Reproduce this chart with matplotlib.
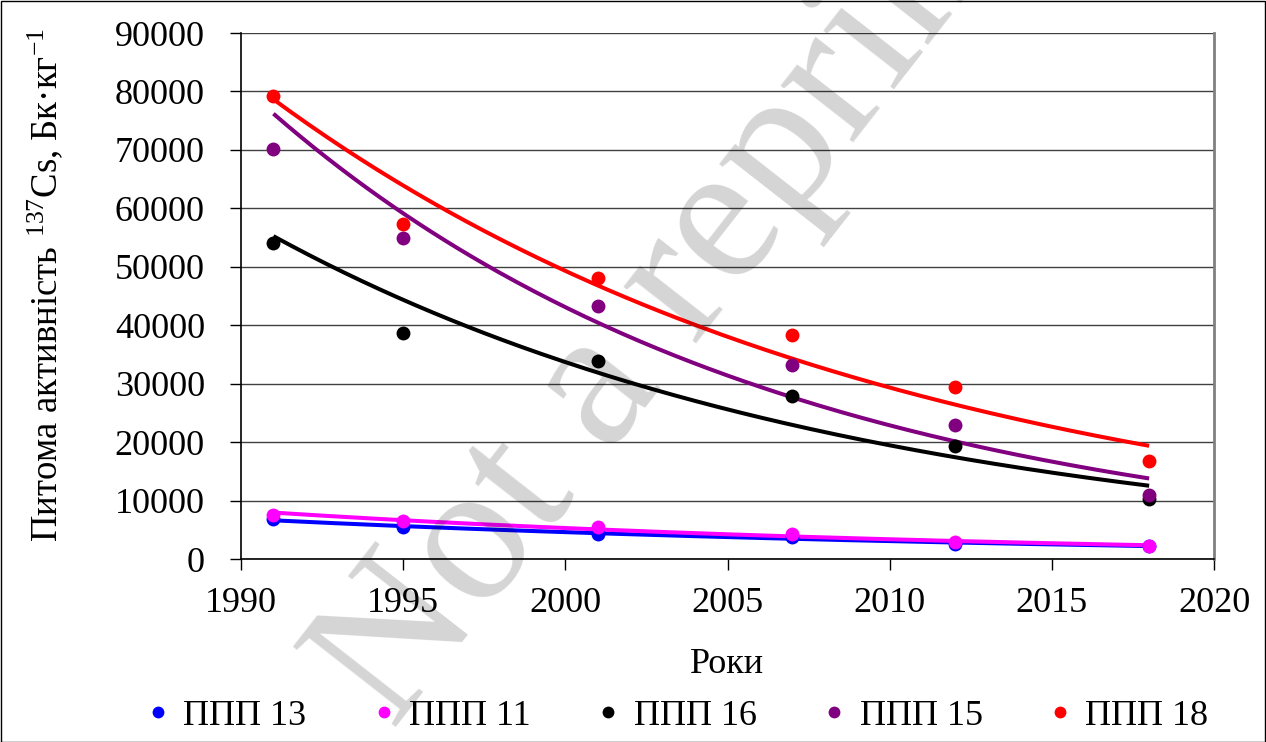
import numpy as np
import matplotlib
matplotlib.use("Agg")
import matplotlib.pyplot as plt
from matplotlib.patches import Rectangle

plt.rcParams['font.family'] = ['Liberation Serif', 'DejaVu Serif']
plt.rcParams['mathtext.fontset'] = 'custom'
plt.rcParams['mathtext.rm'] = 'Liberation Serif'
plt.rcParams['mathtext.it'] = 'Liberation Serif:italic'

years = [1991, 1995, 2001, 2007, 2012, 2018]
labels = ['ППП 13', 'ППП 11', 'ППП 16', 'ППП 15', 'ППП 18']
colors = ['#0000FF', '#FF00FF', '#000000', '#800080', '#FF0000']
ppp13 = [6900, 5400, 4300, 3700, 2600, 2300]
ppp11 = [7600, 6500, 5400, 4200, 2900, 2300]
ppp16 = [54100, 38600, 33800, 27900, 19300, 10300]
ppp15 = [70100, 54900, 43300, 33200, 23000, 11000]
ppp18 = [79200, 57300, 48100, 38300, 29400, 16800]
series = [ppp13, ppp11, ppp16, ppp15, ppp18]

W, H = 1266, 742
fig = plt.figure(figsize=(W / 100, H / 100), dpi=100)
ax = fig.add_axes([241 / W, 1 - 559 / H, (1214 - 241) / W, (559 - 33) / H])

x = np.array(years, dtype=float)
xf = np.linspace(x.min(), x.max(), 200)
for vals, col, lab in zip(series, colors, labels):
    v = np.array(vals, dtype=float)
    b, a = np.polyfit(x, np.log(v), 1)
    ax.plot(xf, np.exp(a + b * xf), color=col, lw=2.9, zorder=3, solid_capstyle='butt')
    ax.plot(x, v, 'o', color=col, ms=10, mec='none', zorder=4, label=lab)

ax.set_xlim(1990, 2020)
ax.set_ylim(0, 90000)
ax.set_xticks(np.arange(1990, 2021, 5))
ax.set_yticks(np.arange(0, 90001, 10000))
ax.yaxis.grid(True, color='#000000', lw=1.0, alpha=0.75)
ax.set_axisbelow(True)
for s in ['left', 'bottom']:
    ax.spines[s].set_color('black')
    ax.spines[s].set_linewidth(1.2)
ax.spines['right'].set_color('#808080')
ax.spines['right'].set_linewidth(2)
ax.spines['top'].set_visible(False)
ax.tick_params(axis='both', direction='out', length=8, width=1, labelsize=26, colors='black')
ax.tick_params(axis='x', pad=12)
ax.tick_params(axis='y', pad=18)

ax.set_xlabel('Роки', fontsize=26, labelpad=20)
fig.text(45 / W, 1 - 285 / H, 'Питома активність $^{137}$Cs, Бк·кг$^{-1}$',
         rotation=90, ha='center', va='center', fontsize=26.5)

leg = fig.legend(loc='center', bbox_to_anchor=(0.536, 1 - 716 / H), ncol=5,
                 frameon=False, fontsize=26, markerscale=0.85, handlelength=0.5,
                 handletextpad=0.45, columnspacing=1.9)

# watermark
fig.text(393 / W, 1 - 731 / H, 'Not a reprint', fontsize=144, color='black', alpha=0.17,
         rotation=52, rotation_mode='anchor', ha='left', va='baseline', zorder=10)

fig.add_artist(Rectangle((0.5 / W, 0.5 / H), 1 - 1.5 / W, 1 - 1.5 / H,
                         transform=fig.transFigure, fill=False, ec='black', lw=1))

fig.savefig('out.png', dpi=100)
